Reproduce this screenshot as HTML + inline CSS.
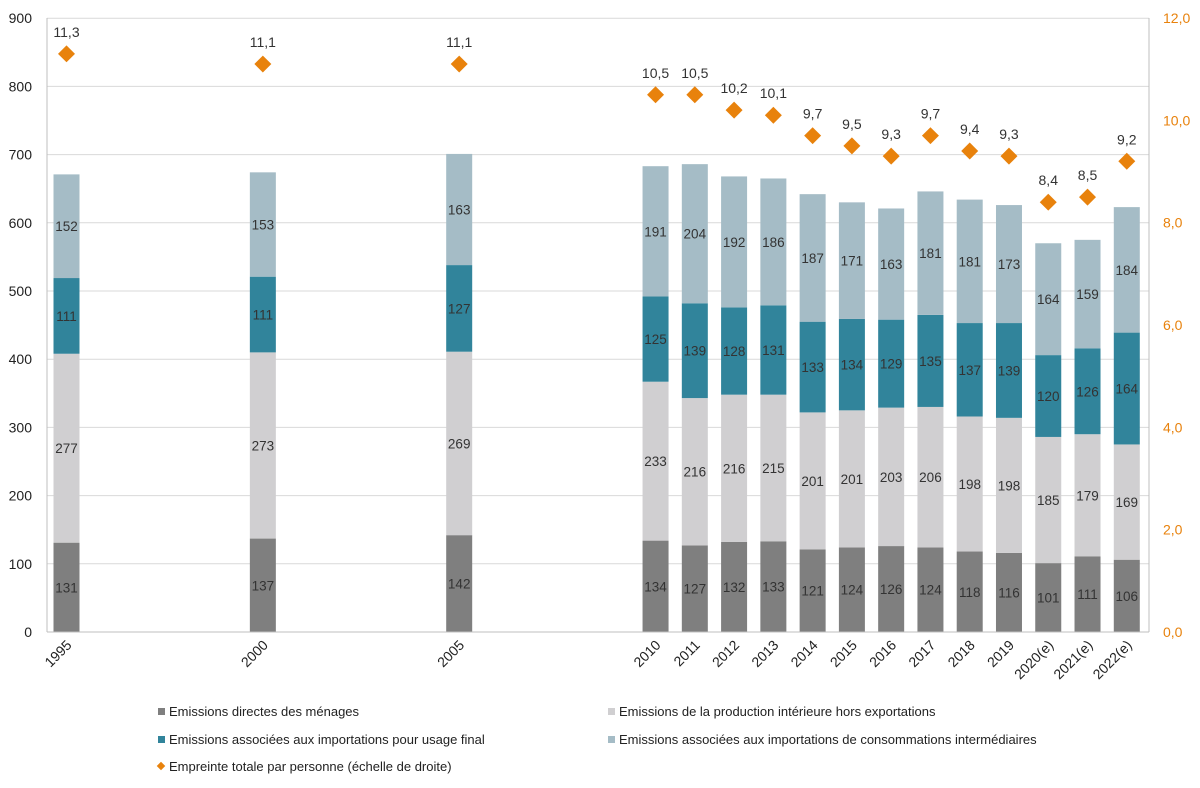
<!DOCTYPE html>
<html><head><meta charset="utf-8"><style>
body{margin:0;background:#fff;}
svg{display:block;font-family:"Liberation Sans",sans-serif;}
</style></head><body>
<svg id="s" width="1200" height="788" xmlns="http://www.w3.org/2000/svg"></svg>
<script>
const s=document.getElementById('s');
let h='';
const y0=632, pu=68.2/100, L=47, R=1149;
const Y=v=>y0-v*pu, YR=v=>y0-v*(614/12);
for(let v=100;v<=900;v+=100) h+=`<line x1="${L}" x2="${R}" y1="${Y(v)}" y2="${Y(v)}" stroke="#d9d9d9" stroke-width="1"/>`;
for(let v=0;v<=900;v+=100) h+=`<text x="32" y="${Y(v)+5}" font-size="14" text-anchor="end" fill="#222">${v}</text>`;
for(let v=0;v<=12;v+=2) h+=`<text x="1163" y="${YR(v)+5}" font-size="14" fill="#e8820c">${v.toFixed(1).replace('.',',')}</text>`;
h+=`<line x1="${L}" x2="${L}" y1="18" y2="${y0}" stroke="#bfbfbf"/><line x1="${R}" x2="${R}" y1="18" y2="${y0}" stroke="#bfbfbf"/>`;
const d=[[1995,131,277,111,152,11.3],[2000,137,273,111,153,11.1],[2005,142,269,127,163,11.1],[2010,134,233,125,191,10.5],[2011,127,216,139,204,10.5],[2012,132,216,128,192,10.2],[2013,133,215,131,186,10.1],[2014,121,201,133,187,9.7],[2015,124,201,134,171,9.5],[2016,126,203,129,163,9.3],[2017,124,206,135,181,9.7],[2018,118,198,137,181,9.4],[2019,116,198,139,173,9.3],[2020,101,185,120,164,8.4],[2021,111,179,126,159,8.5],[2022,106,169,164,184,9.2]];
const cols=['#7f7f7f','#d0cfd1','#31849b','#a5bcc6'];
d.forEach(r=>{
 const cx=66.5+(r[0]-1995)*39.27;
 let base=0;
 for(let i=0;i<4;i++){
  const v=r[i+1];
  h+=`<rect x="${cx-13}" y="${Y(base+v)}" width="26" height="${v*pu}" fill="${cols[i]}"/>`;
  h+=`<text x="${cx}" y="${Y(base+v/2)+5}" font-size="13.5" text-anchor="middle" fill="#333">${v}</text>`;
  base+=v;
 }
 const py=YR(r[5]);
 h+=`<rect x="${cx-6}" y="${py-6}" width="12" height="12" fill="#e8820c" transform="rotate(45 ${cx} ${py})"/>`;
 h+=`<text x="${cx}" y="${py-17}" font-size="14" text-anchor="middle" fill="#333">${r[5].toFixed(1).replace('.',',')}</text>`;
 const lab=r[0]>=2020?r[0]+'(e)':r[0];
 h+=`<text x="${cx+6}" y="646" font-size="14" text-anchor="end" fill="#222" transform="rotate(-45 ${cx+6} 646)">${lab}</text>`;
});
h+=`<line x1="${L}" x2="${R}" y1="${y0}" y2="${y0}" stroke="#bfbfbf"/>`;
const leg=[[158,712,cols[0],'Emissions directes des ménages'],[608,712,cols[1],'Emissions de la production intérieure hors exportations'],[158,740,cols[2],'Emissions associées aux importations pour usage final'],[608,740,cols[3],'Emissions associées aux importations de consommations intermédiaires']];
leg.forEach(l=>{h+=`<rect x="${l[0]}" y="${l[1]-4}" width="7" height="7" fill="${l[2]}"/><text x="${l[0]+11}" y="${l[1]+4}" font-size="13" fill="#222">${l[3]}</text>`;});
h+=`<rect x="158" y="763" width="6" height="6" fill="#e8820c" transform="rotate(45 161 766)"/><text x="169" y="771" font-size="13" fill="#222">Empreinte totale par personne (échelle de droite)</text>`;
s.innerHTML=h;
</script>
</body></html>
